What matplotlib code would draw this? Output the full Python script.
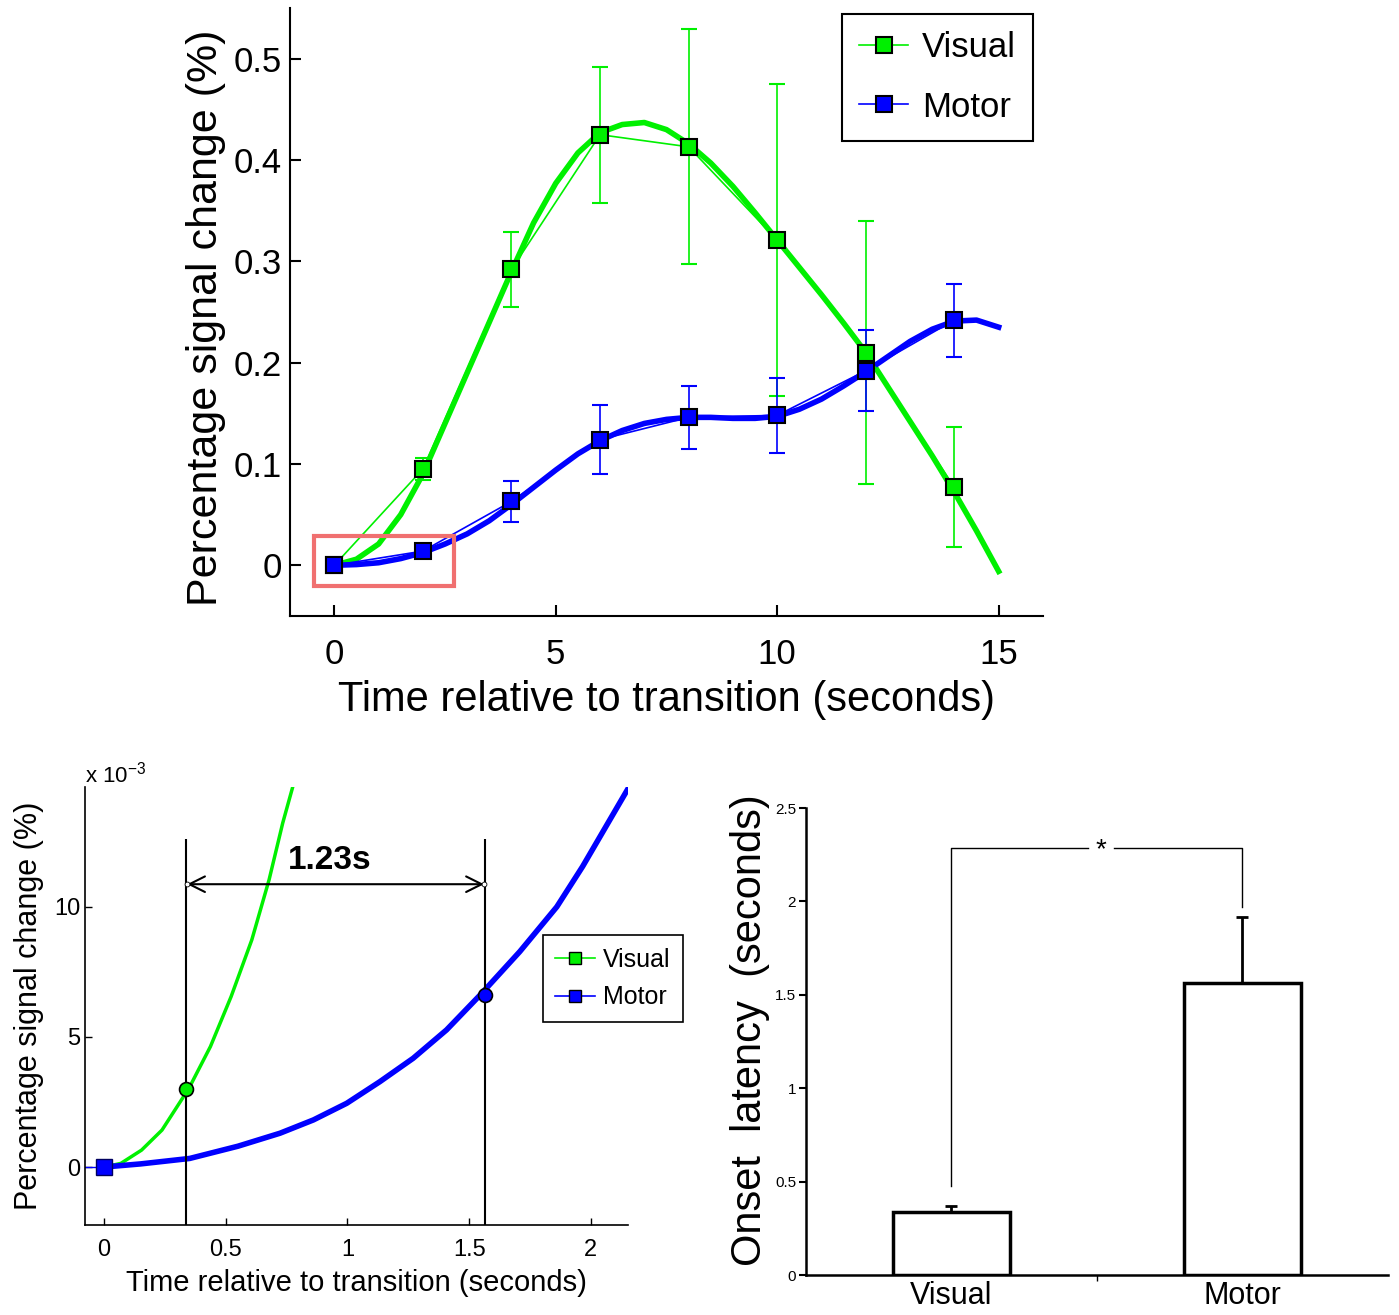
import numpy as np
import matplotlib
matplotlib.use('Agg')
import matplotlib.pyplot as plt
from matplotlib.ticker import FuncFormatter

plt.rcParams['font.family'] = ['Liberation Sans', 'DejaVu Sans']

GREEN = '#00f000'
BLUE = '#0000ff'

# block-averaged response, % signal change, sampled every 2 s
t_points = [0, 2, 4, 6, 8, 10, 12, 14]
visual_mean = [0.0, 0.095, 0.292, 0.425, 0.413, 0.321, 0.210, 0.077]
visual_err = [0.0, 0.011, 0.037, 0.067, 0.116, 0.154, 0.130, 0.059]
motor_mean = [0.0, 0.014, 0.063, 0.124, 0.146, 0.148, 0.192, 0.242]
motor_err = [0.0, 0.0, 0.020, 0.034, 0.031, 0.037, 0.040, 0.036]

# fitted response curves
fit_t = [0, 0.5, 1, 1.5, 2, 2.5, 3, 3.5, 4, 4.5, 5, 5.5, 6, 6.5, 7, 7.5,
         8, 8.5, 9, 9.5, 10, 10.5, 11, 11.5, 12, 12.5, 13, 13.5, 14, 14.5, 15]
visual_fit = [0.0, 0.006, 0.021, 0.050, 0.090, 0.140, 0.190, 0.240, 0.290,
              0.338, 0.377, 0.407, 0.427, 0.435, 0.437, 0.430, 0.416, 0.397,
              0.374, 0.348, 0.321, 0.294, 0.267, 0.239, 0.210, 0.176, 0.142,
              0.108, 0.072, 0.034, -0.006]
motor_fit = [0.0, 0.0007, 0.0025, 0.0066, 0.0125, 0.021, 0.031, 0.044, 0.060,
             0.077, 0.094, 0.110, 0.123, 0.133, 0.140, 0.144, 0.146, 0.146,
             0.145, 0.145, 0.147, 0.154, 0.164, 0.177, 0.191, 0.206, 0.221,
             0.233, 0.241, 0.242, 0.235]

# first two seconds of the fitted curves
early_t_vis = [0, 0.069, 0.154, 0.238, 0.349, 0.437, 0.522, 0.607, 0.678,
               0.734, 0.774]
early_vis = [0, 0.00014, 0.00065, 0.00142, 0.00303, 0.00463, 0.00655,
             0.00873, 0.01104, 0.01322, 0.01457]
early_t_mot = [0, 0.15, 0.352, 0.55, 0.723, 0.86, 0.997, 1.133, 1.27, 1.407,
               1.548, 1.708, 1.86, 1.966, 2.15]
early_mot = [0, 0.00012, 0.00033, 0.00080, 0.00130, 0.00181, 0.00245,
             0.00328, 0.00418, 0.00527, 0.00664, 0.00828, 0.0100, 0.01155,
             0.0145]
onset_vis = 0.336
onset_gap = 1.23
onset_mot = onset_vis + onset_gap
onset_vis_y = 0.0030
onset_mot_y = 0.0066

# onset latency across subjects
groups = ['Visual', 'Motor']
latency = [0.335, 1.563]
latency_err = [0.033, 0.354]

fig = plt.figure(figsize=(13.99, 13.15), dpi=100)

# ---- top: full time course ----
ax1 = fig.add_axes([0.2073, 0.5316, 0.5382, 0.4623])
ax1.plot(fit_t, visual_fit, color=GREEN, lw=4, zorder=2,
         solid_joinstyle='round')
ax1.plot(fit_t, motor_fit, color=BLUE, lw=4, zorder=2,
         solid_joinstyle='round')
ax1.errorbar(t_points, visual_mean, yerr=visual_err, color=GREEN, lw=1.2,
             capsize=6, marker='s', ms=12, mfc=GREEN, mec='k', mew=1.5,
             zorder=3, label='Visual')
ax1.errorbar(t_points, motor_mean, yerr=motor_err, color=BLUE, lw=1.2,
             capsize=6, marker='s', ms=12, mfc=BLUE, mec='k', mew=1.5,
             zorder=3, label='Motor')
# highlighted region shown below
ax1.add_patch(plt.Rectangle((-0.45, -0.020), 3.16, 0.049, fill=False,
                            ec='#f07070', lw=3, zorder=4))
ax1.set_xlim(-1, 16)
ax1.set_ylim(-0.05, 0.55)
ax1.set_xticks([0, 5, 10, 15])
ax1.set_yticks([0, 0.1, 0.2, 0.3, 0.4, 0.5])
ax1.set_yticklabels(['0', '0.1', '0.2', '0.3', '0.4', '0.5'])
ax1.tick_params(direction='in', length=8, width=1.5, labelsize=25)
ax1.tick_params(axis='x', pad=16)
ax1.tick_params(axis='y', pad=6)
for s in ['top', 'right']:
    ax1.spines[s].set_visible(False)
for s in ['left', 'bottom']:
    ax1.spines[s].set_linewidth(1.5)
ax1.set_xlabel('Time relative to transition (seconds)', fontsize=30)
ax1.set_ylabel('Percentage signal change (%)', fontsize=31)
ax1.xaxis.set_label_coords(0.5, -0.105)
ax1.yaxis.set_label_coords(-0.085, 0.49)
h, l = ax1.get_legend_handles_labels()
leg = ax1.legend([x[0] for x in h], l, loc='upper right',
                 bbox_to_anchor=(0.987, 0.990), fontsize=25, fancybox=False,
                 edgecolor='k', framealpha=1, handlelength=1.4,
                 borderpad=0.5, labelspacing=0.75, handletextpad=0.4,
                 borderaxespad=0)
leg.get_frame().set_linewidth(1.5)

# ---- bottom left: zoom on the onsets ----
ax2 = fig.add_axes([0.0608, 0.0684, 0.388, 0.333])
ax2.plot([-0.1, 0], [0, 0], color=BLUE, lw=1)
ax2.plot(early_t_vis, early_vis, color=GREEN, lw=2.5, zorder=2,
         solid_joinstyle='round')
ax2.plot(early_t_mot, early_mot, color=BLUE, lw=4, zorder=2,
         solid_joinstyle='round')
ax2.plot([0], [0], marker='s', ms=11, mfc=BLUE, mec='#000060', mew=1, zorder=4)
ax2.vlines([onset_vis, onset_mot], -0.003, 0.0126, color='k', lw=1.5, zorder=3)
ax2.plot([onset_vis], [onset_vis_y], 'o', ms=10, mfc=GREEN, mec='k',
         mew=1.2, zorder=5)
ax2.plot([onset_mot], [onset_mot_y], 'o', ms=10, mfc=BLUE, mec='k',
         mew=1.2, zorder=5)
ax2.annotate('', xy=(onset_mot - 0.005, 0.01087),
             xytext=(onset_vis + 0.005, 0.01087),
             arrowprops=dict(arrowstyle='<->', lw=1.5, color='k',
                             mutation_scale=28, shrinkA=0, shrinkB=0))
ax2.plot([onset_vis + 0.005, onset_mot - 0.005], [0.01087, 0.01087], 'o',
         ms=3.5, mfc='white', mec='k', mew=0.6, zorder=5)
ax2.text(0.925, 0.0118, f'{onset_gap:.2f}s',
         fontsize=24, fontweight='bold', ha='center', va='center')
ax2.plot([], [], color=GREEN, lw=1.2, marker='s', ms=9, mfc=GREEN, mec='k',
         label='Visual')
ax2.plot([], [], color=BLUE, lw=1.2, marker='s', ms=9, mfc=BLUE, mec='k',
         label='Motor')
leg2 = ax2.legend(loc='upper right', bbox_to_anchor=(1.101, 0.662),
                  fontsize=18, fancybox=False, edgecolor='k', framealpha=1,
                  handlelength=1.6, borderpad=0.5, labelspacing=0.55,
                  handletextpad=0.3, borderaxespad=0)
leg2.get_frame().set_linewidth(1.2)
ax2.set_xlim(-0.078, 2.152)
ax2.set_ylim(-0.00223, 0.0146)
ax2.set_xticks([0, 0.5, 1, 1.5, 2])
ax2.set_xticklabels(['0', '0.5', '1', '1.5', '2'])
ax2.set_yticks([0, 0.005, 0.010])
ax2.yaxis.set_major_formatter(FuncFormatter(lambda v, p: f'{v * 1e3:g}'))
ax2.tick_params(direction='in', length=5, width=1, labelsize=17)
ax2.tick_params(axis='x', pad=10)
for s in ['top', 'right']:
    ax2.spines[s].set_visible(False)
for s in ['left', 'bottom']:
    ax2.spines[s].set_linewidth(1.2)
ax2.text(0.0, 1.0, r'x 10$^{\mathregular{-3}}$', transform=ax2.transAxes,
         fontsize=16, ha='left', va='bottom')
ax2.set_xlabel('Time relative to transition (seconds)', fontsize=21)
ax2.set_ylabel('Percentage signal change (%)', fontsize=22)
ax2.xaxis.set_label_coords(0.5, -0.10)
ax2.yaxis.set_label_coords(-0.075, 0.5)

# ---- bottom right: onset latency ----
ax3 = fig.add_axes([0.5761, 0.0304, 0.416, 0.3551])
xpos = np.arange(len(groups))
ax3.bar(xpos, latency, width=0.40, color='white', edgecolor='k', lw=2.5,
        zorder=2)
ax3.errorbar(xpos, latency, yerr=[[0, 0], latency_err], fmt='none',
             ecolor='k', elinewidth=2, capsize=4, capthick=2, zorder=1)
# significance bracket
y_top = 2.285
ax3.plot([0, 0, 0.47], [0.477, y_top, y_top], color='k', lw=1)
ax3.plot([0.56, 1, 1], [y_top, y_top, 1.97], color='k', lw=1)
ax3.text(0.515, y_top - 0.01, '*', fontsize=20, ha='center', va='center')
ax3.set_xlim(-0.5, 1.5)
ax3.set_ylim(0, 2.5)
ax3.set_xticks(xpos)
ax3.set_xticklabels(groups, fontsize=22)
ax3.set_xticks([0.5], minor=True)
ax3.tick_params(axis='x', which='major', length=0, pad=4)
ax3.tick_params(axis='x', which='minor', direction='out', length=4, width=1)
ax3.set_yticks([0, 0.5, 1, 1.5, 2, 2.5])
ax3.set_yticklabels(['0', '0.5', '1', '1.5', '2', '2.5'])
ax3.tick_params(axis='y', direction='out', length=5, width=1.5, labelsize=11,
                pad=2)
for s in ['top', 'right']:
    ax3.spines[s].set_visible(False)
for s in ['left', 'bottom']:
    ax3.spines[s].set_linewidth(1.8)
ax3.set_ylabel('Onset  latency  (seconds)', fontsize=30)
ax3.yaxis.set_label_coords(-0.062, 0.525)

fig.savefig('out.png', dpi=100, facecolor='white')
